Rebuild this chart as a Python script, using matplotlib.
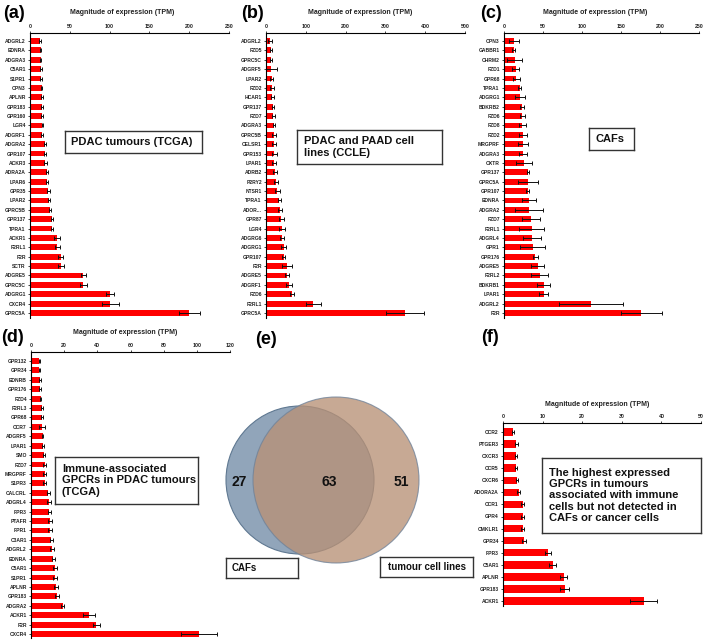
import numpy as np
import matplotlib
matplotlib.use("Agg")
import matplotlib.pyplot as plt
from matplotlib.patches import Circle

plt.rcParams['font.family'] = ['Liberation Sans', 'DejaVu Sans']

# ---------------- data ----------------
a_cats = ["ADGRL2", "EDNRA", "ADGRA3", "C5AR1", "S1PR1", "OPN3", "APLNR", "GPR183", "GPR160", "LGR4",
          "ADGRF1", "ADGRA2", "GPR107", "ACKR3", "ADRA2A", "LPAR6", "GPR35", "LPAR2", "GPRC5B", "GPR137",
          "TPRA1", "ACKR1", "F2RL1", "F2R", "SCTR", "ADGRE5", "GPRC5C", "ADGRG1", "CXCR4", "GPRC5A"]
a_vals = [12.6, 13.4, 13.4, 14, 14, 14.5, 15, 15, 15, 15.5,
          15, 18.5, 19, 19.3, 21, 21.4, 23, 23.5, 25, 27.7,
          28, 33.6, 34.5, 38.7, 39, 67, 67, 101, 101, 200]
a_errs = [1, 1, 1, 1.5, 1.5, 1, 1.5, 1.5, 1, 1,
          1, 1.5, 1.5, 1.5, 1.5, 1, 1.5, 1.5, 1.5, 1.5,
          1.5, 4, 3, 3, 4, 3, 4, 5, 11, 13]

b_cats = ["ADGRL2", "FZD5", "GPRC5C", "ADGRF5", "LPAR2", "FZD2", "HCAR1", "GPR137", "FZD7", "ADGRA3",
          "GPRC5B", "CELSR1", "GPR153", "LPAR1", "ADRB2", "P2RY2", "NTSR1", "TPRA1", "ADOR...", "GPR87",
          "LGR4", "ADGRG6", "ADGRG1", "GPR107", "F2R", "ADGRE5", "ADGRF1", "FZD6", "F2RL1", "GPRC5A"]
b_vals = [10, 12, 12, 12, 14, 15, 16, 17, 18.5, 20,
          20, 20, 21, 21, 23.5, 25, 28.5, 33.6, 35, 38,
          39.5, 40, 44, 44.5, 52, 52, 58, 65, 119, 349]
b_errs = [4, 2, 3, 15, 3, 4, 4, 3, 4, 2,
          5, 4, 6, 5, 5, 6, 7, 3, 6, 6,
          8, 4, 7, 4, 13, 5, 8, 5, 18, 47]

c_cats = ["OPN3", "GABBR1", "CHRM2", "FZD1", "GPR68", "TPRA1", "ADGRG1", "BDKRB2", "FZD6", "FZD8",
          "FZD2", "MRGPRF", "ADGRA3", "OXTR", "GPR137", "GPRC5A", "GPR107", "EDNRA", "ADGRA2", "FZD7",
          "F2RL1", "ADGRL4", "GPR1", "GPR176", "ADGRE5", "F2RL2", "BDKRB1", "LPAR1", "ADGRL2", "F2R"]
c_vals = [12.7, 12.7, 13.5, 15, 16, 20, 20.5, 23, 23.7, 23.7,
          24.5, 24.5, 24.5, 25.4, 30.5, 30.5, 30.5, 32, 32, 34.7,
          35.6, 36, 37, 40, 43, 46, 51, 51, 111, 176]
c_errs = [6.8, 2, 9.3, 4.5, 4, 2, 6, 2, 3, 5,
          5, 6, 5.5, 10, 1, 13, 2, 9.5, 18, 12,
          16, 12, 16, 3, 8, 11, 8.5, 6, 41, 26]

d_cats = ["GPR132", "GPR34", "EDNRB", "GPR176", "FZD4", "F2RL3", "GPR68", "CCR7", "ADGRF5", "LPAR1",
          "SMO", "FZD7", "MRGPRF", "S1PR3", "CALCRL", "ADGRL4", "FPR3", "PTAFR", "FPR1", "C3AR1",
          "ADGRL2", "EDNRA", "C5AR1", "S1PR1", "APLNR", "GPR183", "ADGRA2", "ACKR1", "F2R", "CXCR4"]
d_vals = [5, 5, 5.4, 5.4, 5.8, 6.6, 6.6, 6.6, 7, 7.4,
          7.8, 8.2, 8.2, 8.2, 10.4, 10.8, 11, 11.4, 11.4, 12.2,
          12.6, 13.4, 14.2, 14.4, 15, 15.4, 19, 35, 39.4, 101.4]
d_errs = [0.4, 0.4, 0.5, 0.5, 0.5, 0.6, 0.5, 1.6, 0.5, 0.6,
          0.6, 0.7, 1, 0.8, 1, 1, 1, 1, 1, 1,
          1, 1, 1.2, 1.2, 1.2, 1.2, 1.2, 3.6, 2, 11]

f_cats = ["CCR2", "PTGER3", "CXCR3", "CCR5", "CXCR6", "ADORA2A", "CCR1", "GPR4", "CMKLR1", "GPR34",
          "FPR3", "C5AR1", "APLNR", "GPR183", "ACKR1"]
f_vals = [2.5, 3.4, 3.3, 3.3, 3.5, 4, 5, 5, 5, 5.4,
          11.3, 12.5, 15.3, 15.6, 35.5]
f_errs = [0.3, 0.3, 0.3, 0.3, 0.3, 0.4, 0.4, 0.4, 0.4, 0.5,
          0.8, 0.9, 0.8, 1.1, 3.5]

venn_counts = [27, 63, 51]
venn_labels = ["CAFs", "tumour cell lines"]

axis_title = "Magnitude of expression (TPM)"

# ---------------- figure ----------------
W, H = 709, 641
fig = plt.figure(figsize=(W / 100, H / 100), dpi=100)
fig.patch.set_facecolor('white')


def fx(x):
    return x / W


def fy(y):
    return 1 - y / H


def ax_px(x0, x1, y0, y1):
    return fig.add_axes([fx(x0), fy(y1), (x1 - x0) / W, (y1 - y0) / H])


def bar_panel(x0, x1, ytop, ybot, yfirst, ylast, cats, vals, errs, xmax, step,
              title_x, title_y):
    n = len(cats)
    s = (ylast - yfirst) / (n - 1)
    ax = ax_px(x0, x1, ytop, ybot)
    pos = np.arange(n)
    ax.barh(pos, vals, height=0.62, color='#FF0000', xerr=errs,
            error_kw=dict(ecolor='#111111', elinewidth=0.7, capsize=1.3, capthick=0.7))
    ax.set_ylim(n - 1 + (ybot - ylast) / s, -(yfirst - ytop) / s)
    ax.set_xlim(0, xmax)
    ax.xaxis.tick_top()
    ax.set_xticks(np.arange(0, xmax + step / 2, step))
    ax.set_yticks(pos)
    ax.set_yticklabels(cats)
    for sp in ['right', 'bottom']:
        ax.spines[sp].set_visible(False)
    for sp in ['left', 'top']:
        ax.spines[sp].set_linewidth(0.8)
    ax.tick_params(axis='x', labelsize=3.8, length=1.5, width=0.6, pad=1.5, colors='#222222')
    ax.tick_params(axis='y', labelsize=3.6, length=1.5, width=0.6, pad=1.5, colors='#222222')
    for t in ax.get_xticklabels() + ax.get_yticklabels():
        t.set_fontweight('bold')
    ax.patch.set_alpha(0)
    fig.text(fx(title_x), fy(title_y), axis_title, fontsize=5, fontweight='bold',
             ha='center', va='center', color='#222222')
    return ax


bar_panel(30, 229, 33, 318, 41, 313, a_cats, a_vals, a_errs, 250, 50, 122, 13)
bar_panel(266, 465, 33, 318, 41, 313, b_cats, b_vals, b_errs, 500, 100, 360, 13)
bar_panel(504, 699, 33, 318, 41, 313, c_cats, c_vals, c_errs, 250, 50, 595, 13)
bar_panel(31, 230, 352, 638, 361, 634, d_cats, d_vals, d_errs, 120, 20, 125, 333)
bar_panel(503, 701, 423, 606, 432, 601, f_cats, f_vals, f_errs, 50, 10, 597, 404)

# panel letters
for lab, x, y in [("(a)", 3, 13), ("(b)", 241, 13), ("(c)", 480, 13),
                  ("(d)", 1, 338), ("(e)", 255, 340), ("(f)", 481, 338)]:
    fig.text(fx(x), fy(y), lab, fontsize=13, fontweight='bold', ha='left', va='center')


def box_text(x0, y0, x1, y1, tx, text, fs=8):
    ax = ax_px(x0, x1, y0, y1)
    ax.set_xlim(x0, x1)
    ax.set_ylim(y1, y0)
    ax.set_xticks([])
    ax.set_yticks([])
    ax.set_facecolor('white')
    for sp in ax.spines.values():
        sp.set_linewidth(1.0)
        sp.set_edgecolor('#333333')
    ax.text(tx, (y0 + y1) / 2, text, fontsize=fs, fontweight='bold', ha='left', va='center',
            linespacing=1.15, color='#111111')


box_text(65, 131, 202, 153, 71, "PDAC tumours (TCGA)")
box_text(297, 130, 442, 164, 304, "PDAC and PAAD cell\nlines (CCLE)")
box_text(589, 128, 634, 150, 596, "CAFs")
box_text(55, 457, 198, 504, 62, "Immune-associated\nGPCRs in PDAC tumours\n(TCGA)")
box_text(542, 458, 701, 533, 549,
         "The highest expressed\nGPCRs in tumours\nassociated with immune\ncells but not detected in\nCAFs or cancer cells")

# ---------------- Venn (e) ----------------
vx0, vx1, vy0, vy1 = 215, 430, 390, 575
vax = ax_px(vx0, vx1, vy0, vy1)
vax.set_xlim(vx0, vx1)
vax.set_ylim(vy1, vy0)
vax.axis('off')
vax.add_patch(Circle((300, 480), 74, facecolor='#91A5BA', edgecolor='#5F7891', lw=0.8))
vax.add_patch(Circle((336, 480), 83, facecolor='#B89176', edgecolor='#6F8299', lw=0.8, alpha=0.78))
for (x, v) in zip([239, 329, 401], venn_counts):
    vax.text(x, 482, str(v), fontsize=10, fontweight='bold', ha='center', va='center', color='#111111')

box_text(226, 558, 298, 578, 232, venn_labels[0], fs=7)
box_text(380, 557, 473, 577, 388, venn_labels[1], fs=7)

fig.savefig("out.png", dpi=100)
